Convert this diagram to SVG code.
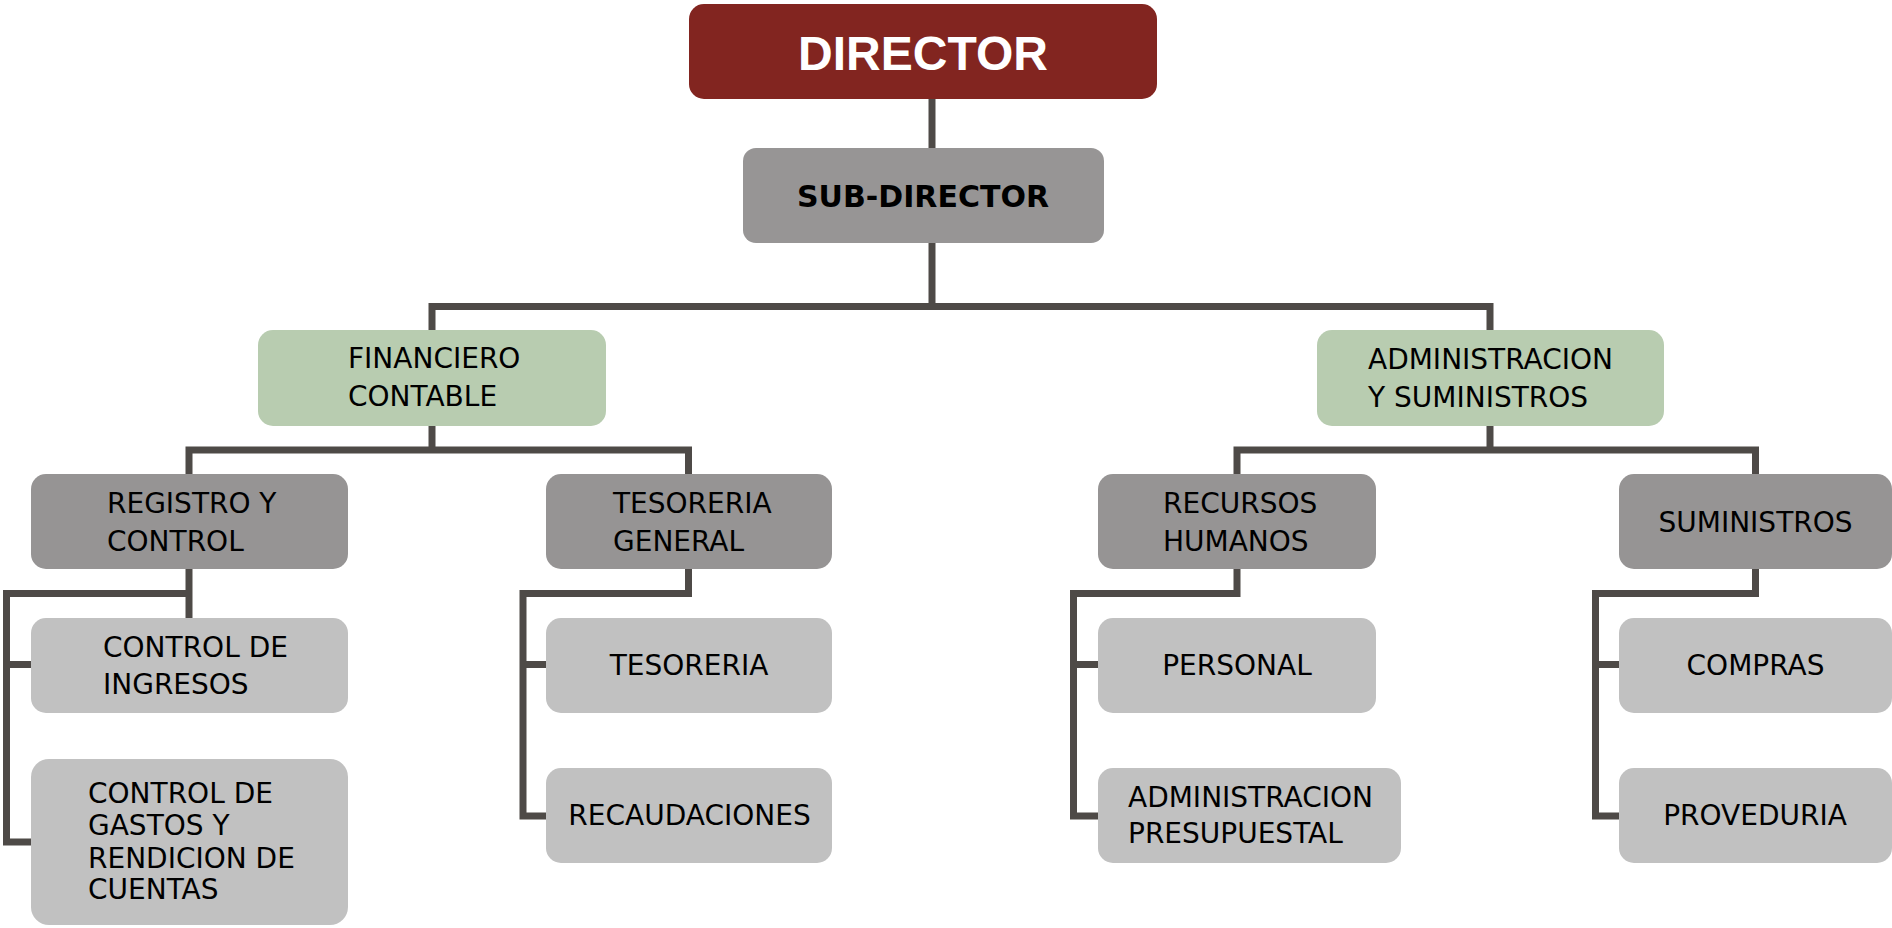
<svg xmlns="http://www.w3.org/2000/svg" width="1892" height="928" viewBox="0 0 1892 928">
<style>
.c{fill:none;stroke:#4e4a47;stroke-width:7;stroke-linejoin:miter}
.l3{fill:#969494}
.l4{fill:#c1c1c1}
.gr{fill:#b8ccb0}
.t{font-family:"DejaVu Sans",Verdana,sans-serif;font-size:28px;fill:#000}
.m{text-anchor:middle}
</style>
<rect width="1892" height="928" fill="#fff"/>
<g id="connectors">
<line class="c" x1="932" y1="99" x2="932" y2="148"/>
<polyline class="c" points="932,243 932,306.5"/>
<polyline class="c" points="432,330 432,306.5 1490,306.5 1490,330"/>
<polyline class="c" points="432,426 432,450"/>
<polyline class="c" points="189,474 189,450 688.5,450 688.5,474"/>
<polyline class="c" points="1490,426 1490,450"/>
<polyline class="c" points="1237,474 1237,450 1755.5,450 1755.5,474"/>
<line class="c" x1="189" y1="569" x2="189" y2="618"/>
<polyline class="c" points="189,593.5 6.5,593.5 6.5,842 31,842"/>
<line class="c" x1="6.5" y1="664.5" x2="31" y2="664.5"/>
<polyline class="c" points="688.5,569 688.5,593.5 523,593.5 523,816 546,816"/>
<line class="c" x1="523" y1="664.5" x2="546" y2="664.5"/>
<polyline class="c" points="1237,569 1237,593.5 1073.5,593.5 1073.5,816 1098,816"/>
<line class="c" x1="1073.5" y1="664.5" x2="1098" y2="664.5"/>
<polyline class="c" points="1755.5,569 1755.5,593.5 1595.5,593.5 1595.5,816 1619,816"/>
<line class="c" x1="1595.5" y1="664.5" x2="1619" y2="664.5"/>
</g>
<g id="director">
<rect x="689" y="4" width="468" height="95" rx="15" fill="#822520"/>
<text x="923" y="70" text-anchor="middle" font-family="'Liberation Sans',Arial,sans-serif" font-weight="bold" font-size="48" fill="#fff">DIRECTOR</text>
</g>
<g id="subdirector">
<rect x="743" y="148" width="361" height="95" rx="13" fill="#979595"/>
<text x="923" y="207" text-anchor="middle" font-family="'DejaVu Sans',Verdana,sans-serif" font-weight="bold" font-size="30" fill="#000">SUB-DIRECTOR</text>
</g>
<g id="financiero">
<rect class="gr" x="258" y="330" width="348" height="96" rx="15"/>
<text class="t" x="348" y="368">FINANCIERO</text>
<text class="t" x="348" y="406">CONTABLE</text>
</g>
<g id="administracion">
<rect class="gr" x="1317" y="330" width="347" height="96" rx="15"/>
<text class="t" x="1368" y="369">ADMINISTRACION</text>
<text class="t" x="1368" y="407">Y SUMINISTROS</text>
</g>
<g id="registro">
<rect class="l3" x="31" y="474" width="317" height="95" rx="15"/>
<text class="t" x="107" y="513">REGISTRO Y</text>
<text class="t" x="107" y="551">CONTROL</text>
</g>
<g id="tesoreria-general">
<rect class="l3" x="546" y="474" width="286" height="95" rx="15"/>
<text class="t" x="613" y="513">TESORERIA</text>
<text class="t" x="613" y="551">GENERAL</text>
</g>
<g id="recursos">
<rect class="l3" x="1098" y="474" width="278" height="95" rx="15"/>
<text class="t" x="1163" y="513">RECURSOS</text>
<text class="t" x="1163" y="551">HUMANOS</text>
</g>
<g id="suministros">
<rect class="l3" x="1619" y="474" width="273" height="95" rx="15"/>
<text class="t m" x="1755.5" y="532">SUMINISTROS</text>
</g>
<g id="control-ingresos">
<rect class="l4" x="31" y="618" width="317" height="95" rx="15"/>
<text class="t" x="103" y="657">CONTROL DE</text>
<text class="t" x="103" y="694">INGRESOS</text>
</g>
<g id="control-gastos">
<rect class="l4" x="31" y="759" width="317" height="166" rx="18"/>
<text class="t" x="88" y="803">CONTROL DE</text>
<text class="t" x="88" y="835">GASTOS Y</text>
<text class="t" x="88" y="868">RENDICION DE</text>
<text class="t" x="88" y="899">CUENTAS</text>
</g>
<g id="tesoreria">
<rect class="l4" x="546" y="618" width="286" height="95" rx="15"/>
<text class="t m" x="689" y="675">TESORERIA</text>
</g>
<g id="recaudaciones">
<rect class="l4" x="546" y="768" width="286" height="95" rx="15"/>
<text class="t m" x="689.5" y="825">RECAUDACIONES</text>
</g>
<g id="personal">
<rect class="l4" x="1098" y="618" width="278" height="95" rx="15"/>
<text class="t m" x="1237" y="675">PERSONAL</text>
</g>
<g id="admin-presupuestal">
<rect class="l4" x="1098" y="768" width="303" height="95" rx="15"/>
<text class="t" x="1128" y="807">ADMINISTRACION</text>
<text class="t" x="1128" y="843">PRESUPUESTAL</text>
</g>
<g id="compras">
<rect class="l4" x="1619" y="618" width="273" height="95" rx="15"/>
<text class="t m" x="1755.5" y="675">COMPRAS</text>
</g>
<g id="proveduria">
<rect class="l4" x="1619" y="768" width="273" height="95" rx="15"/>
<text class="t m" x="1755" y="825">PROVEDURIA</text>
</g>
</svg>
